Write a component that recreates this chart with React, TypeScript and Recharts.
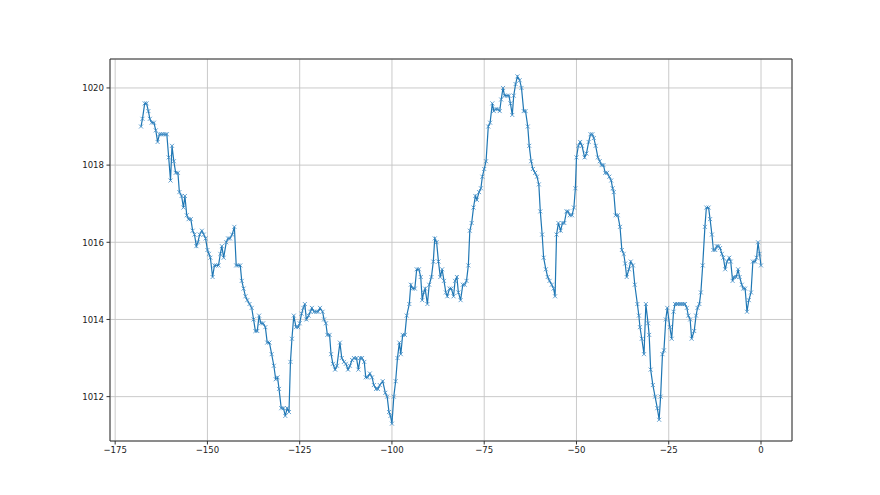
import { LineChart, Line, XAxis, YAxis, CartesianGrid, ReferenceArea } from "recharts"

// hours before the last reading
const hoursAgo = [
  -168.0, -167.6, -167.0, -166.5, -166.0, -165.6, -165.1, -164.5, -164.0, -163.5,
  -163.0, -162.5, -162.0, -161.4, -161.0, -160.5, -160.0, -159.6, -159.1, -158.6,
  -158.0, -157.6, -157.0, -156.5, -156.1, -155.6, -155.1, -154.5, -154.0, -153.5,
  -153.0, -152.6, -152.1, -151.5, -151.0, -150.5, -150.0, -149.6, -149.2, -148.6,
  -148.1, -147.6, -147.0, -146.5, -146.1, -145.6, -144.9, -144.4, -143.9, -143.3,
  -142.7, -142.2, -141.7, -141.1, -140.7, -140.2, -139.7, -139.2, -138.6, -138.0,
  -137.5, -137.0, -136.5, -136.0, -135.5, -134.9, -134.3, -133.8, -133.2, -132.6,
  -132.0, -131.5, -131.0, -130.6, -130.0, -129.4, -128.9, -128.4, -127.9, -127.5,
  -127.1, -126.6, -126.0, -125.4, -125.0, -124.5, -124.0, -123.6, -123.2, -122.6,
  -122.1, -121.7, -121.1, -120.5, -120.0, -119.5, -118.8, -118.4, -117.9, -117.5,
  -116.9, -116.5, -116.0, -115.4, -114.9, -114.1, -113.6, -113.0, -112.5, -111.9,
  -111.4, -110.8, -110.3, -109.6, -109.1, -108.6, -108.1, -107.5, -107.1, -106.6,
  -106.0, -105.4, -104.9, -104.3, -103.8, -103.3, -102.5, -101.8, -101.3, -100.8,
  -100.4, -100.0, -99.5, -99.0, -98.5, -98.0, -97.6, -97.1, -96.5, -96.0,
  -95.3, -94.9, -94.4, -93.8, -93.3, -92.7, -92.2, -91.8, -91.4, -91.0,
  -90.4, -89.9, -89.3, -88.8, -88.4, -87.9, -87.4, -86.9, -86.4, -85.9,
  -85.4, -85.0, -84.4, -83.9, -83.3, -82.9, -82.4, -82.0, -81.4, -80.8,
  -80.3, -79.8, -79.3, -78.9, -78.4, -77.9, -77.4, -77.0, -76.4, -75.9,
  -75.5, -75.0, -74.5, -73.9, -73.4, -72.8, -72.4, -71.9, -71.4, -70.8,
  -70.4, -69.9, -69.5, -68.8, -68.3, -67.9, -67.4, -67.0, -66.5, -66.0,
  -65.4, -64.9, -64.3, -63.8, -63.2, -62.8, -62.3, -61.8, -61.2, -60.7,
  -60.2, -59.8, -59.3, -58.9, -58.3, -57.8, -57.3, -56.7, -56.2, -55.8,
  -55.4, -54.9, -54.3, -53.8, -53.3, -52.7, -52.3, -51.8, -51.2, -50.7,
  -50.3, -50.0, -49.5, -49.0, -48.5, -47.8, -47.3, -46.7, -46.2, -45.7,
  -45.3, -44.8, -44.2, -43.7, -43.2, -42.7, -42.2, -41.7, -41.1, -40.6,
  -40.2, -39.9, -39.4, -38.8, -38.2, -37.7, -37.2, -36.8, -36.4, -35.8,
  -35.3, -34.7, -34.2, -33.5, -33.1, -32.8, -32.3, -31.7, -31.2, -30.6,
  -30.3, -29.9, -29.3, -28.7, -28.1, -27.6, -27.2, -26.7, -26.3, -25.8,
  -25.4, -24.7, -24.2, -23.7, -23.3, -22.8, -22.4, -21.9, -21.5, -21.0,
  -20.6, -20.1, -19.7, -19.2, -18.8, -18.1, -17.6, -17.2, -16.7, -16.3,
  -15.8, -15.2, -14.8, -14.2, -13.8, -13.3, -12.9, -12.4, -12.0, -11.5,
  -11.1, -10.6, -10.2, -9.7, -9.2, -8.6, -8.2, -7.7, -7.3, -6.7,
  -6.2, -5.8, -5.2, -4.8, -4.3, -3.8, -3.3, -2.7, -2.2, -1.6,
  -1.2, -0.8, -0.4, 0.0,
]

// pressure, hPa
const pressure = [
  1019.0, 1019.2, 1019.6, 1019.6, 1019.4, 1019.2, 1019.1, 1019.1, 1018.9, 1018.6,
  1018.8, 1018.8, 1018.8, 1018.8, 1018.8, 1018.2, 1017.6, 1018.5, 1018.1, 1017.8,
  1017.8, 1017.3, 1017.2, 1016.9, 1017.2, 1016.7, 1016.6, 1016.6, 1016.3, 1016.2,
  1015.9, 1016.0, 1016.2, 1016.3, 1016.2, 1016.1, 1015.8, 1015.7, 1015.6, 1015.1,
  1015.4, 1015.4, 1015.4, 1015.7, 1015.9, 1015.6, 1016.0, 1016.1, 1016.1, 1016.2,
  1016.4, 1015.4, 1015.4, 1015.4, 1015.0, 1014.8, 1014.6, 1014.5, 1014.4, 1014.3,
  1014.0, 1013.7, 1013.7, 1014.1, 1013.9, 1013.9, 1013.8, 1013.4, 1013.4, 1013.1,
  1012.8, 1012.45, 1012.5, 1012.2, 1011.7, 1011.7, 1011.5, 1011.7, 1011.6, 1012.9,
  1013.5, 1014.1, 1013.8, 1013.8, 1013.9, 1014.15, 1014.3, 1014.4, 1014.0, 1014.1,
  1014.2, 1014.3, 1014.2, 1014.2, 1014.2, 1014.3, 1014.2, 1014.0, 1013.9, 1013.6,
  1013.6, 1013.1, 1012.85, 1012.7, 1012.8, 1013.4, 1013.0, 1012.9, 1012.85, 1012.7,
  1012.8, 1012.95, 1013.0, 1013.0, 1012.7, 1013.0, 1013.0, 1012.9, 1012.5, 1012.5,
  1012.6, 1012.5, 1012.3, 1012.2, 1012.2, 1012.3, 1012.4, 1012.1, 1012.0, 1011.6,
  1011.5, 1011.3, 1012.0, 1012.4, 1013.0, 1013.4, 1013.1, 1013.6, 1013.6, 1014.1,
  1014.4, 1014.9, 1014.8, 1014.8, 1015.3, 1015.3, 1015.1, 1014.5, 1014.7, 1014.8,
  1014.4, 1014.9, 1015.1, 1015.5, 1016.1, 1016.0, 1015.5, 1015.1, 1015.3, 1015.0,
  1014.7, 1014.6, 1014.8, 1014.8, 1014.6, 1015.0, 1015.1, 1014.7, 1014.5, 1014.9,
  1014.9, 1015.0, 1015.4, 1016.3, 1016.5, 1016.9, 1017.2, 1017.1, 1017.3, 1017.4,
  1017.7, 1017.9, 1018.1, 1019.0, 1019.1, 1019.6, 1019.4, 1019.45, 1019.45, 1019.4,
  1019.7, 1020.0, 1019.8, 1019.8, 1019.8, 1019.6, 1019.3, 1019.8, 1020.1, 1020.3,
  1020.2, 1020.0, 1019.4, 1019.4, 1019.0, 1018.5, 1018.1, 1017.9, 1017.8, 1017.7,
  1017.5, 1016.8, 1016.2, 1015.6, 1015.3, 1015.1, 1015.0, 1014.9, 1014.8, 1014.6,
  1016.2, 1016.5, 1016.3, 1016.5, 1016.5, 1016.8, 1016.8, 1016.7, 1016.7, 1016.9,
  1017.4, 1018.2, 1018.5, 1018.6, 1018.5, 1018.2, 1018.3, 1018.6, 1018.8, 1018.8,
  1018.7, 1018.5, 1018.2, 1018.1, 1018.0, 1018.0, 1017.8, 1017.8, 1017.7, 1017.6,
  1017.4, 1017.3, 1016.7, 1016.7, 1016.4, 1015.8, 1015.7, 1015.45, 1015.1, 1015.3,
  1015.5, 1015.4, 1014.9, 1014.4, 1014.1, 1013.8, 1013.5, 1013.1, 1014.4, 1013.9,
  1013.6, 1012.7, 1012.3, 1012.0, 1011.7, 1011.4, 1012.0, 1013.1, 1013.2, 1014.0,
  1014.3, 1013.8, 1013.5, 1014.2, 1014.4, 1014.4, 1014.4, 1014.4, 1014.4, 1014.4,
  1014.4, 1014.3, 1014.1, 1014.0, 1013.5, 1013.7, 1014.1, 1014.3, 1014.4, 1014.7,
  1015.4, 1016.4, 1016.9, 1016.9, 1016.6, 1016.2, 1015.8, 1015.8, 1015.9, 1015.9,
  1015.85, 1015.7, 1015.6, 1015.3, 1015.5, 1015.6, 1015.5, 1015.0, 1015.1, 1015.1,
  1015.3, 1015.1, 1014.9, 1014.8, 1014.8, 1014.2, 1014.5, 1014.7, 1015.5, 1015.5,
  1015.6, 1016.0, 1015.7, 1015.4,
]

const xTicks = [-175, -150, -125, -100, -75, -50, -25, 0]
const yTicks = [1012, 1014, 1016, 1018, 1020]
const xDomain: [number, number] = [-176.4, 8.4]
const yDomain: [number, number] = [1010.85, 1020.75]

const data = hoursAgo.map((h, i) => ({ h, p: pressure[i] }))

const BLUE = "#1f77b4"
const tickStyle = { fontSize: 9.5, fill: "#222", fontFamily: "'Liberation Sans Narrow', 'DejaVu Sans Condensed', sans-serif" }
const fmt = (v: number) => String(v).replace("-", "\u2212")

// matplotlib-style "x" marker
function XMark(props: any) {
  const { cx, cy, index } = props
  if (cx == null || cy == null) return null
  const s = 2
  return (
    <path
      key={index}
      d={`M${cx - s},${cy - s}L${cx + s},${cy + s}M${cx - s},${cy + s}L${cx + s},${cy - s}`}
      stroke="#3d8ac4"
      strokeWidth={0.8}
      fill="none"
    />
  )
}

export default function App() {
  return (
    <div style={{ position: "absolute", left: 0, top: 0, width: 880, height: 495, background: "#fff" }}>
      <LineChart width={880} height={495} data={data} margin={{ top: 59, right: 88, bottom: 24, left: 70 }}>
        <CartesianGrid stroke="#c4c4c4" strokeWidth={0.9} />
        <XAxis
          dataKey="h"
          type="number"
          domain={xDomain}
          ticks={xTicks}
          allowDataOverflow
          tickFormatter={fmt}
          tick={tickStyle}
          tickSize={3.5}
          tickMargin={1.5}
          height={30}
          stroke="#333"
          axisLine={false}
        />
        <YAxis
          type="number"
          domain={yDomain}
          ticks={yTicks}
          allowDataOverflow
          tick={tickStyle}
          tickSize={3.5}
          tickMargin={2.5}
          width={40}
          stroke="#333"
          axisLine={false}
        />
        <ReferenceArea
          x1={xDomain[0]}
          x2={xDomain[1]}
          y1={yDomain[0]}
          y2={yDomain[1]}
          fill="none"
          stroke="#333"
          strokeWidth={1}
          ifOverflow="visible"
        />
        <Line
          dataKey="p"
          stroke={BLUE}
          strokeWidth={1.2}
          dot={<XMark />}
          activeDot={false}
          isAnimationActive={false}
        />
      </LineChart>
    </div>
  )
}
